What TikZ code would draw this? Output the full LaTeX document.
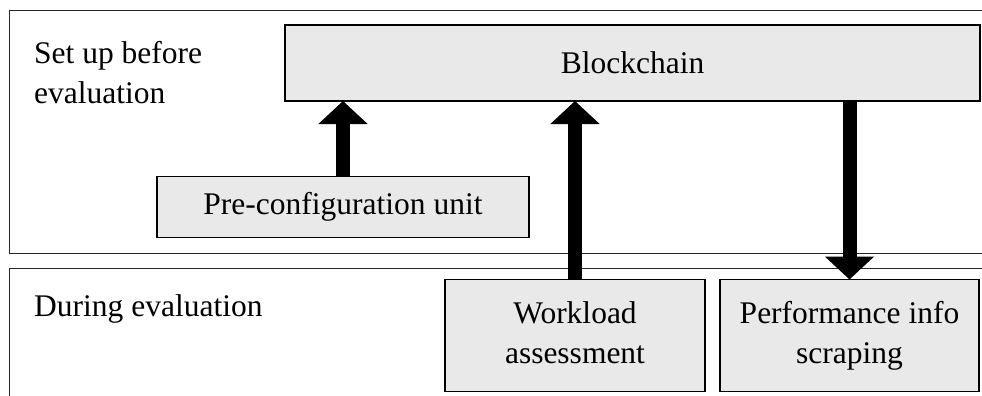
\documentclass[tikz,border=0pt]{standalone}
\usepackage{fontspec}
\setmainfont{Liberation Serif}
\usetikzlibrary{arrows.meta}
\definecolor{boxgray}{HTML}{E9E9E9}
\newcommand{\bodyfont}{\fontsize{31.5}{40}\selectfont}
\begin{document}
\begin{tikzpicture}[x=1pt,y=-1pt,
  panel/.style={draw=black!85, line width=1pt, anchor=north west,
    inner sep=0pt, outer sep=0pt},
  unit/.style={draw=black, line width=1.3pt, fill=boxgray, inner sep=0pt,
    outer sep=0pt, align=center, font=\bodyfont},
  phase/.style={anchor=base west, inner sep=0pt, align=left, font=\bodyfont},
  flow/.style={line width=14pt, -{Triangle[width=48pt,length=23pt]}}]
\useasboundingbox (0,0) rectangle (982,396);
\clip (0,0) rectangle (982,396);

% the two phases
\node[panel, minimum width=1000pt, minimum height=242pt] (setup) at (9,11) {};
\node[panel, minimum width=1000pt, minimum height=200pt] (during) at (9,268) {};
\node[phase] (setuplbl) at (34,103) {Set up before\\evaluation};
\node[phase] (duringlbl) at (34,316) {During evaluation};

% components
\node[unit, minimum width=695pt, minimum height=76pt] (chain) at (632.5,63) {Blockchain};
\node[unit, minimum width=372pt, minimum height=61pt] (pre) at (343,207) {Pre-configuration unit};
\node[unit, minimum width=260pt, minimum height=112pt] (work) at (575,335.5)
  {Workload\strut\\assessment\strut};
\node[unit, minimum width=259pt, minimum height=112pt] (perf) at (849.5,335.5)
  {Performance info\strut\\scraping\strut};

% data flow
\draw[flow] (pre.north) -- (pre.north |- chain.south);
\draw[flow] (work.north) -- (work.north |- chain.south);
\draw[flow] (perf.north |- chain.south) -- (perf.north);
\end{tikzpicture}
\end{document}
